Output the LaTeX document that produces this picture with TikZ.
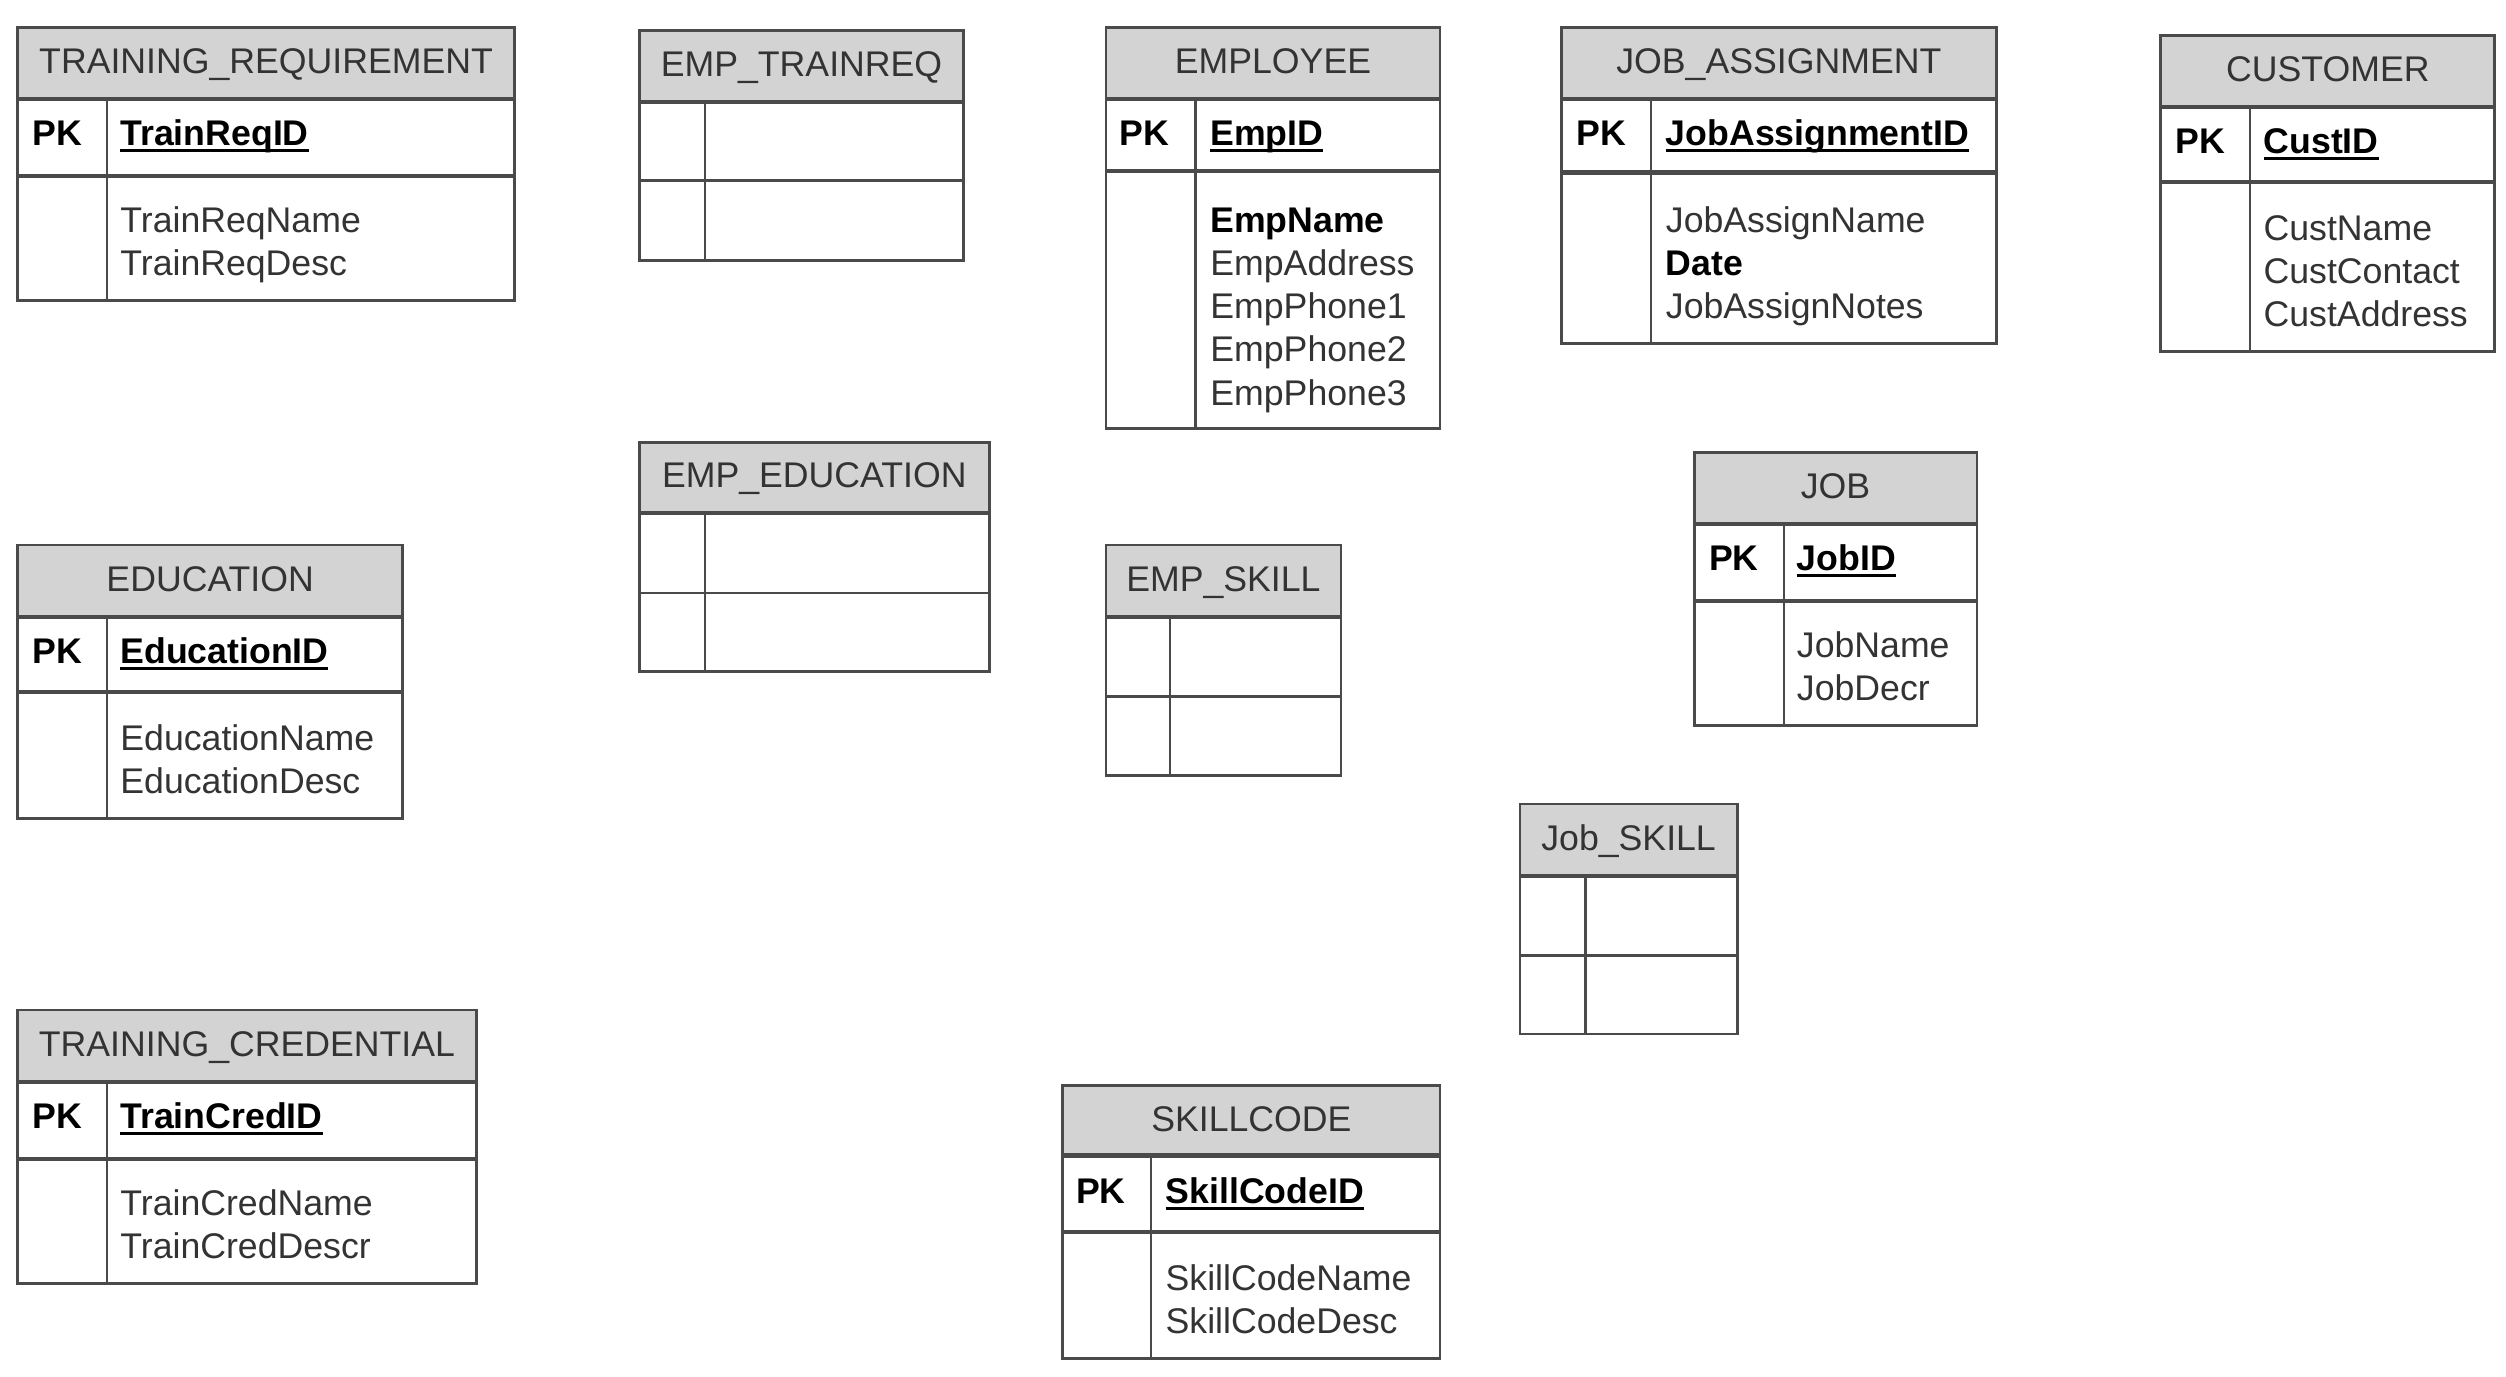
\documentclass[tikz,border=0pt]{standalone}
\usepackage{fontspec}
\setmainfont{Liberation Sans}
\definecolor{hdrgray}{HTML}{D3D3D3}
\definecolor{linegray}{HTML}{4A4A4A}
\definecolor{txtgray}{HTML}{333333}
\newcommand{\keyul}[1]{\setbox0\hbox{#1}\rlap{\rule[-2.4pt]{\wd0}{1pt}}\box0}
\tikzset{
 tbl/.style={draw=linegray, line width=1pt},
 hdr/.style={draw=linegray, line width=1pt, fill=hdrgray},
 sep/.style={draw=linegray, line width=1.5pt},
 colsep/.style={draw=linegray, line width=0.8pt},
 title/.style={inner sep=0pt, anchor=base, text=txtgray, font=\fontsize{12.7}{15}\selectfont},
 pk/.style={inner sep=0pt, anchor=base west, font=\fontsize{12.7}{15}\selectfont\bfseries},
 attr/.style={inner sep=0pt, anchor=base west, text=txtgray, font=\fontsize{12.7}{15}\selectfont},
}

\begin{document}
\begin{tikzpicture}[x=0.02cm, y=-0.02cm]
    \useasboundingbox (0,0) rectangle (1568,861);

    % TRAINING_REQUIREMENT
    \filldraw[hdr] (11,17) rectangle (322,62);
    \node[title] (trreq) at (166.5,46) {TRAINING\_REQUIREMENT};
    \draw[tbl] (11,62) rectangle (322,188);
    \draw[sep] (11,62) -- (322,62);
    \draw[sep] (11,110) -- (322,110);
    \draw[colsep] (67,62) -- (67,188);
    \node[pk] (trreqpk) at (20,91) {PK};
    \node[pk] (trreqid) at (75,91) {\keyul{TrainReqID}};
    \foreach \a [count=\i from 0] in {TrainReqName, TrainReqDesc}
        \node[attr] (trreqa\i) at (75,145.5+27*\i) {\a};

    % EMP_TRAINREQ
    \filldraw[hdr] (400,19) rectangle (603,64);
    \node[title] (emptr) at (501.5,48) {EMP\_TRAINREQ};
    \draw[tbl] (400,64) rectangle (603,163);
    \draw[sep] (400,64) -- (603,64);
    \draw[tbl] (400,113) -- (603,113);
    \draw[colsep] (441,64) -- (441,163);

    % EMPLOYEE
    \filldraw[hdr] (692,17) rectangle (901,62);
    \node[title] (emp) at (796.5,46) {EMPLOYEE};
    \draw[tbl] (692,62) rectangle (901,268);
    \draw[sep] (692,62) -- (901,62);
    \draw[sep] (692,107) -- (901,107);
    \draw[colsep] (748,62) -- (748,268);
    \node[pk] (emppk) at (700,91) {PK};
    \node[pk] (empid) at (757,91) {\keyul{EmpID}};
    \foreach \a [count=\i from 0] in {{\textbf{\color{black}EmpName}}, EmpAddress, EmpPhone1, EmpPhone2, EmpPhone3}
        \node[attr] (empa\i) at (757,145.5+27*\i) {\a};

    % JOB_ASSIGNMENT
    \filldraw[hdr] (977,17) rectangle (1249,62);
    \node[title] (jobasg) at (1113,46) {JOB\_ASSIGNMENT};
    \draw[tbl] (977,62) rectangle (1249,215);
    \draw[sep] (977,62) -- (1249,62);
    \draw[sep] (977,108) -- (1249,108);
    \draw[colsep] (1033,62) -- (1033,215);
    \node[pk] (jobasgpk) at (986,91) {PK};
    \node[pk] (jobasgid) at (1042,91) {\keyul{JobAssignmentID}};
    \foreach \a [count=\i from 0] in {JobAssignName, {\textbf{\color{black}Date}}, JobAssignNotes}
        \node[attr] (jobasga\i) at (1042,145.5+27*\i) {\a};

    % CUSTOMER
    \filldraw[hdr] (1352,22) rectangle (1561,67);
    \node[title] (cust) at (1456.5,51) {CUSTOMER};
    \draw[tbl] (1352,67) rectangle (1561,220);
    \draw[sep] (1352,67) -- (1561,67);
    \draw[sep] (1352,114) -- (1561,114);
    \draw[colsep] (1408,67) -- (1408,220);
    \node[pk] (custpk) at (1361,96) {PK};
    \node[pk] (custid) at (1416,96) {\keyul{CustID}};
    \foreach \a [count=\i from 0] in {CustName, CustContact, CustAddress}
        \node[attr] (custa\i) at (1416,150.5+27*\i) {\a};

    % EMP_EDUCATION
    \filldraw[hdr] (400,277) rectangle (619,321);
    \node[title] (empedu) at (509.5,305) {EMP\_EDUCATION};
    \draw[tbl] (400,321) rectangle (619,420);
    \draw[sep] (400,321) -- (619,321);
    \draw[tbl] (400,371) -- (619,371);
    \draw[colsep] (441,321) -- (441,420);

    % EDUCATION
    \filldraw[hdr] (11,341) rectangle (252,386);
    \node[title] (edu) at (131.5,370) {EDUCATION};
    \draw[tbl] (11,386) rectangle (252,512);
    \draw[sep] (11,386) -- (252,386);
    \draw[sep] (11,433) -- (252,433);
    \draw[colsep] (67,386) -- (67,512);
    \node[pk] (edupk) at (20,415) {PK};
    \node[pk] (eduid) at (75,415) {\keyul{EducationID}};
    \foreach \a [count=\i from 0] in {EducationName, EducationDesc}
        \node[attr] (edua\i) at (75,469.5+27*\i) {\a};

    % EMP_SKILL
    \filldraw[hdr] (692,341) rectangle (839,386);
    \node[title] (empskl) at (765.5,370) {EMP\_SKILL};
    \draw[tbl] (692,386) rectangle (839,485);
    \draw[sep] (692,386) -- (839,386);
    \draw[tbl] (692,436) -- (839,436);
    \draw[colsep] (732,386) -- (732,485);

    % JOB
    \filldraw[hdr] (1060,283) rectangle (1237,328);
    \node[title] (job) at (1148.5,312) {JOB};
    \draw[tbl] (1060,328) rectangle (1237,454);
    \draw[sep] (1060,328) -- (1237,328);
    \draw[sep] (1060,376) -- (1237,376);
    \draw[colsep] (1116,328) -- (1116,454);
    \node[pk] (jobpk) at (1069,357) {PK};
    \node[pk] (jobid) at (1124,357) {\keyul{JobID}};
    \foreach \a [count=\i from 0] in {JobName, JobDecr}
        \node[attr] (joba\i) at (1124,411.5+27*\i) {\a};

    % Job_SKILL
    \filldraw[hdr] (951,503) rectangle (1087,548);
    \node[title] (jobskl) at (1019,532) {Job\_SKILL};
    \draw[tbl] (951,548) rectangle (1087,647);
    \draw[sep] (951,548) -- (1087,548);
    \draw[tbl] (951,598) -- (1087,598);
    \draw[colsep] (992,548) -- (992,647);

    % TRAINING_CREDENTIAL
    \filldraw[hdr] (11,632) rectangle (298,677);
    \node[title] (trcred) at (154.5,661) {TRAINING\_CREDENTIAL};
    \draw[tbl] (11,677) rectangle (298,803);
    \draw[sep] (11,677) -- (298,677);
    \draw[sep] (11,725) -- (298,725);
    \draw[colsep] (67,677) -- (67,803);
    \node[pk] (trcredpk) at (20,706) {PK};
    \node[pk] (trcredid) at (75,706) {\keyul{TrainCredID}};
    \foreach \a [count=\i from 0] in {TrainCredName, TrainCredDescr}
        \node[attr] (trcreda\i) at (75,760.5+27*\i) {\a};

    % SKILLCODE
    \filldraw[hdr] (665,679) rectangle (901,723);
    \node[title] (sklcode) at (783,708) {SKILLCODE};
    \draw[tbl] (665,723) rectangle (901,850);
    \draw[sep] (665,723) -- (901,723);
    \draw[sep] (665,771) -- (901,771);
    \draw[colsep] (720,723) -- (720,850);
    \node[pk] (sklcodepk) at (673,753) {PK};
    \node[pk] (sklcodeid) at (729,753) {\keyul{SkillCodeID}};
    \foreach \a [count=\i from 0] in {SkillCodeName, SkillCodeDesc}
        \node[attr] (sklcodea\i) at (729,807.5+27*\i) {\a};
\end{tikzpicture}
\end{document}
